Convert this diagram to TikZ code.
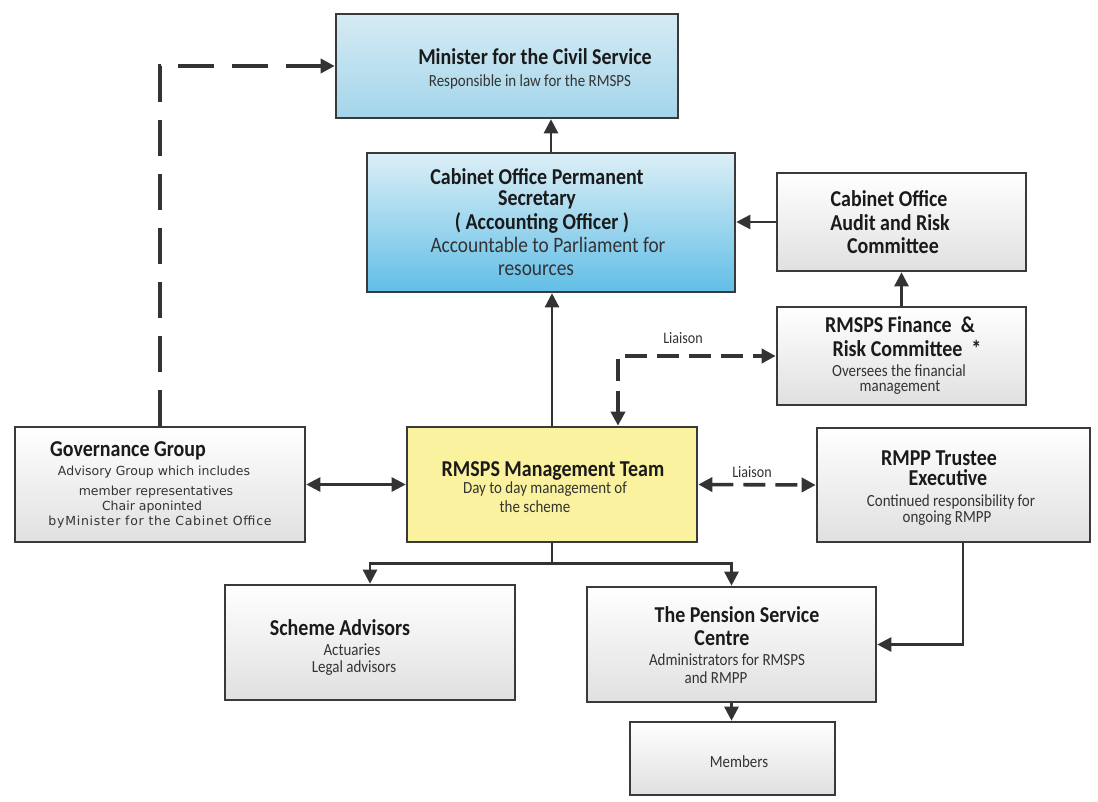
\documentclass[tikz,border=0pt]{standalone}
\usepackage{fontspec}
\setmainfont{Carlito}[FakeStretch=0.88]
\newfontfamily\govfont{DejaVu Sans}
\newfontfamily\govfontsp{DejaVu Sans}[LetterSpace=6]
\usetikzlibrary{arrows.meta}
\definecolor{boxline}{HTML}{3A3A3A}
\definecolor{arrcol}{HTML}{333333}
\definecolor{txt}{HTML}{1A1A1A}
\definecolor{subtxt}{HTML}{333333}
\definecolor{minTop}{HTML}{D6EBF3}
\definecolor{minBot}{HTML}{A3D5EB}
\definecolor{psTop}{HTML}{DCEFF6}
\definecolor{psBot}{HTML}{62BEE7}
\definecolor{mtyellow}{HTML}{FAF29F}
\definecolor{grayBot}{HTML}{E0E0E0}
\tikzset{
  box/.style={draw=boxline, line width=2.6pt, inner sep=0pt, top color=white, bottom color=grayBot},
  bluebox/.style={box, top color=minTop, bottom color=minBot},
  blueboxb/.style={box, top color=psTop, bottom color=psBot},
  yellowbox/.style={draw=boxline, line width=2.6pt, inner sep=0pt, fill=mtyellow},
  ttl/.style={font=\fontsize{22.7}{26}\selectfont\bfseries, text=txt, inner sep=0pt},
  bigtxt/.style={font=\fontsize{22}{25}\selectfont, text=subtxt, inner sep=0pt},
  sub/.style={font=\fontsize{17}{19}\selectfont, text=subtxt, inner sep=0pt},
  govsub/.style={font=\govfont\fontsize{12.5}{15}\selectfont, text=subtxt, inner sep=0pt},
  lbl/.style={font=\fontsize{16}{18}\selectfont, text=subtxt, inner sep=0pt},
  tip/.tip={Triangle[length=14pt,width=14pt]},
  arr/.style={draw=arrcol, line width=2.6pt, -tip},
  darr/.style={draw=arrcol, line width=2.6pt, tip-tip},
  plain/.style={draw=arrcol, line width=2.6pt},
  longdash/.style={draw=arrcol, line width=3.6pt, dash pattern=on 36pt off 18pt, -tip},
  liaison/.style={draw=arrcol, line width=3.6pt, dash pattern=on 22pt off 10pt, tip-tip},
}
\begin{document}
\begin{tikzpicture}[x=1pt,y=-1pt]
\useasboundingbox (0,0) rectangle (1098,802);
\fill[white] (0,0) rectangle (1098,802);

% boxes
\node[bluebox, minimum width=342pt, minimum height=104pt] (min) at (507,66) {};
\node[blueboxb, minimum width=368pt, minimum height=139pt] (ps) at (551,222.5) {};
\node[box, minimum width=249pt, minimum height=98pt] (aud) at (901.5,222) {};
\node[box, minimum width=249pt, minimum height=98pt] (fin) at (901.5,356) {};
\node[box, minimum width=290pt, minimum height=115pt] (gov) at (160,484.5) {};
\node[yellowbox, minimum width=290pt, minimum height=115pt] (mt) at (552,484.5) {};
\node[box, minimum width=273pt, minimum height=114pt] (tru) at (953.5,485) {};
\node[box, minimum width=290pt, minimum height=115pt] (adv) at (370,642.5) {};
\node[box, minimum width=289pt, minimum height=115pt] (psc) at (731.5,644.5) {};
\node[box, minimum width=205pt, minimum height=73pt] (mem) at (732.5,758.5) {};

% texts
\node[ttl] (minA) at (535,57) {Minister for the Civil Service};
\node[sub] (minB) at (530,82) {Responsible in law for the RMSPS};

\node[ttl] (psA) at (537,177) {Cabinet Office Permanent};
\node[ttl] (psB) at (537,200) {Secretary};
\node[ttl] (psC) at (542,223) {( Accounting Officer )};
\node[bigtxt] (psD) at (548,245) {Accountable to Parliament for};
\node[bigtxt] (psE) at (536,270) {resources};

\node[ttl] (audA) at (889,199) {Cabinet Office};
\node[ttl] (audB) at (890,223) {Audit and Risk};
\node[ttl] (audC) at (893,246) {Committee};

\node[ttl] (finA) at (900,325) {RMSPS Finance\ \ \&};
\node[ttl] (finB) at (907,348) {Risk Committee\ \ *};
\node[sub] (finC) at (899,371) {Oversees the financial};
\node[sub] (finD) at (900,388) {management};

\node[ttl] (govA) at (128,451) {Governance Group};
\node[govsub] (govB) at (154,472) {Advisory Group which includes};
\node[govsub] (govC) at (156,492) {member representatives};
\node[govsub] (govD) at (152,507) {Chair aponinted};
\node[govsub, font=\govfontsp\fontsize{12.5}{15}\selectfont] (govE) at (160,522) {byMinister for the Cabinet Office};

\node[ttl] (mtA) at (553,471) {RMSPS Management Team};
\node[sub] (mtB) at (545,489) {Day to day management of};
\node[sub] (mtC) at (535,507) {the scheme};

\node[ttl] (truA) at (939,458) {RMPP Trustee};
\node[ttl] (truB) at (948,478) {Executive};
\node[sub] (truC) at (951,502) {Continued responsibility for};
\node[sub] (truD) at (947,518) {ongoing RMPP};

\node[ttl] (advA) at (340,628) {Scheme Advisors};
\node[sub] (advB) at (352,650) {Actuaries};
\node[sub] (advC) at (354,668) {Legal advisors};

\node[ttl] (pscA) at (737,615) {The Pension Service};
\node[ttl] (pscB) at (722,638) {Centre};
\node[sub] (pscC) at (727,660) {Administrators for RMSPS};
\node[sub] (pscD) at (716,678) {and RMPP};

\node[sub] (memA) at (739,762) {Members};

\node[lbl] (liaA) at (683,338) {Liaison};
\node[lbl] (liaB) at (752,472) {Liaison};

% connectors
\draw[longdash] (gov.north) |- (min.west);
\draw[arr] (ps.north) -- (ps.north |- min.south);
\draw[arr] (mt.north) -- (mt.north |- ps.south);
\draw[arr] (aud.west) -- (aud.west -| ps.east);
\draw[arr] (fin.north) -- (aud.south);
\coordinate (lc) at (618,352);
\draw[liaison] (mt.north -| lc) |- (fin.west);
\draw[darr] (gov.east) -- (mt.west);
\draw[liaison] (mt.east) -- (tru.west);
\draw[plain] (mt.south) -- ++(0,20) coordinate (tj);
\draw[arr] (tj) -| (adv.north);
\draw[arr] (tj) -| (psc.north);
\coordinate (tb) at (963,645);
\draw[arr] (tru.south -| tb) |- (psc.east);
\draw[arr] (psc.south) -- (psc.south |- mem.north);
\end{tikzpicture}
\end{document}
